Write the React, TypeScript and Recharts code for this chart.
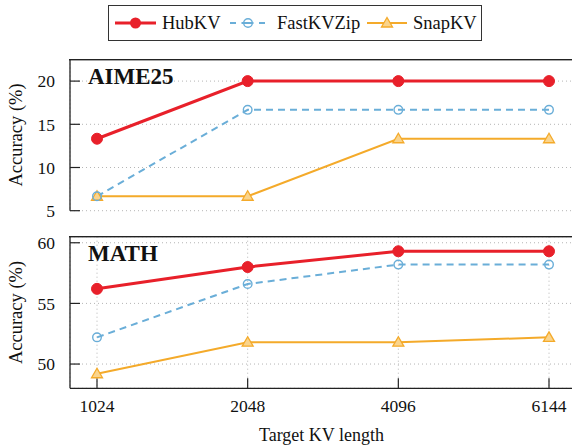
import { LineChart, Line, XAxis, YAxis, CartesianGrid } from 'recharts';

// data
const kvLengths = ['1024', '2048', '4096', '6144'];

const aimeHub = [13.33, 20, 20, 20];
const aimeFast = [6.67, 16.67, 16.67, 16.67];
const aimeSnap = [6.67, 6.67, 13.33, 13.33];

const mathHub = [56.2, 58.0, 59.3, 59.3];
const mathFast = [52.2, 56.6, 58.2, 58.2];
const mathSnap = [49.2, 51.8, 51.8, 52.2];

const aimeTicks = [5, 10, 15, 20];
const mathTicks = [50, 55, 60];

const aimeData = kvLengths.map((len, i) => ({ len, hub: aimeHub[i], fast: aimeFast[i], snap: aimeSnap[i] }));
const mathData = kvLengths.map((len, i) => ({ len, hub: mathHub[i], fast: mathFast[i], snap: mathSnap[i] }));

const RED = '#e8202a';
const BLUE = '#6aaed8';
const ORANGE = '#f4aa2a';
const TRI_FILL = '#fad48c';
const FONT = '"Liberation Serif", "DejaVu Serif", serif';
const AXIS = '#222';
const PAD = { left: 27, right: 27 };

const tickStyle = { fontFamily: FONT, fontSize: 17.5, fill: '#111' };
const frame = { stroke: AXIS, strokeWidth: 1.3 };
const tickMark = { stroke: AXIS, strokeWidth: 1.2 };

const Triangle = (props: any) => {
  const { cx, cy } = props;
  if (cx == null || cy == null) return null;
  return (
    <polygon
      points={`${cx},${cy - 5.5} ${cx - 5.5},${cy + 4} ${cx + 5.5},${cy + 4}`}
      fill={TRI_FILL}
      stroke={ORANGE}
      strokeWidth={1.3}
    />
  );
};

function Panel({ data, ticks, domain, height, margin, showX }: any) {
  return (
    <LineChart width={577} height={height} data={data} margin={margin}>
      <CartesianGrid stroke="#b5b5b5" strokeDasharray="1 3" strokeWidth={1} />
      {/* negative tickSize = ticks pointing into the plot */}
      <XAxis
        dataKey="len"
        padding={PAD}
        axisLine={frame}
        tickLine={tickMark}
        tick={showX ? tickStyle : false}
        tickSize={-10}
        tickMargin={21}
        height={showX ? 30 : 0}
      />
      <YAxis
        type="number"
        domain={domain}
        ticks={ticks}
        interval={0}
        width={70}
        axisLine={frame}
        tickLine={tickMark}
        tick={tickStyle}
        tickSize={-10}
        tickMargin={25}
      />
      <Line
        dataKey="snap"
        stroke={ORANGE}
        strokeWidth={2}
        dot={<Triangle />}
        isAnimationActive={false}
      />
      <Line
        dataKey="fast"
        stroke={BLUE}
        strokeWidth={2}
        strokeDasharray="7 5"
        dot={{ r: 4.3, fill: 'none', stroke: BLUE, strokeWidth: 1.4, strokeDasharray: 'none' }}
        isAnimationActive={false}
      />
      <Line
        dataKey="hub"
        stroke={RED}
        strokeWidth={3}
        dot={{ r: 5.5, fill: RED, stroke: RED, strokeWidth: 1 }}
        isAnimationActive={false}
      />
    </LineChart>
  );
}

export default function App() {
  return (
    <div style={{ position: 'absolute', left: 0, top: 0, width: 572, height: 448, overflow: 'hidden', background: '#fff' }}>
      <div style={{ position: 'absolute', left: 0, top: 0 }}>
        <Panel data={aimeData} ticks={aimeTicks} domain={[5, 22.5]} height={228} margin={{ top: 59.5, right: 1, bottom: 17.3, left: 0 }} showX={false} />
      </div>
      <div style={{ position: 'absolute', left: 0, top: 215 }}>
        <Panel data={mathData} ticks={mathTicks} domain={[48, 60.5]} height={233} margin={{ top: 21.7, right: 1, bottom: 29.7, left: 0 }} showX={true} />
      </div>

      {/* top edge of each plot frame */}
      <div style={{ position: 'absolute', left: 69, top: 59, width: 503, height: 0, borderTop: `1.5px solid ${AXIS}` }} />
      <div style={{ position: 'absolute', left: 69, top: 236, width: 503, height: 0, borderTop: `1.5px solid ${AXIS}` }} />

      {/* legend, panel names and axis titles */}
      <svg width={572} height={448} style={{ position: 'absolute', left: 0, top: 0, pointerEvents: 'none' }} fontFamily={FONT} fill="#111">
        <rect x={69} y={59} width={503} height={1.4} fill={AXIS} />
        <rect x={69} y={236} width={503} height={1.4} fill={AXIS} />

        <rect x={108.5} y={5.5} width={373} height={35} fill="#fff" stroke="#333" strokeWidth={1} />
        <line x1={115} y1={23} x2={156} y2={23} stroke={RED} strokeWidth={3} />
        <circle cx={135.5} cy={23} r={5.5} fill={RED} />
        <text x={162} y={29} fontSize={18.5}>HubKV</text>
        <line x1={230} y1={23} x2={265} y2={23} stroke={BLUE} strokeWidth={2} strokeDasharray="6 5.5 12 5.5 6" />
        <circle cx={248} cy={23} r={4.3} fill="none" stroke={BLUE} strokeWidth={1.4} />
        <text x={277} y={29} fontSize={18.5}>FastKVZip</text>
        <line x1={367} y1={23} x2={407} y2={23} stroke={ORANGE} strokeWidth={2} />
        <polygon points="387,17.5 381.5,27 392.5,27" fill={TRI_FILL} stroke={ORANGE} strokeWidth={1.3} />
        <text x={413} y={29} fontSize={18.5}>SnapKV</text>

        <text x={88} y={84} fontSize={23} fontWeight="bold">AIME25</text>
        <text x={88} y={261} fontSize={23} fontWeight="bold">MATH</text>

        <text x={22} y={135} fontSize={18.5} textAnchor="middle" transform="rotate(-90 22 135)">Accuracy (%)</text>
        <text x={22} y={312.5} fontSize={18.5} textAnchor="middle" transform="rotate(-90 22 312.5)">Accuracy (%)</text>
        <text x={321.5} y={441} fontSize={18} textAnchor="middle">Target KV length</text>
      </svg>
    </div>
  );
}
